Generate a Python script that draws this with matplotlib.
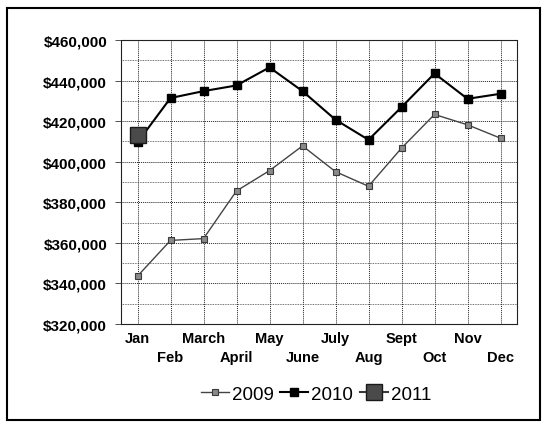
import matplotlib
matplotlib.use("Agg")
import matplotlib.pyplot as plt
from matplotlib.ticker import FuncFormatter, MultipleLocator
from matplotlib.patches import Rectangle

months = ["Jan", "Feb", "March", "April", "May", "June", "July", "Aug", "Sept", "Oct", "Nov", "Dec"]
sales_2009 = [343600, 361200, 362100, 385600, 395600, 407800, 395100, 387900, 406700, 423300, 418200, 411600]
sales_2010 = [409500, 431400, 434800, 437600, 446500, 434800, 420700, 410800, 426900, 443500, 431000, 433500]
sales_2011 = [413400]

plt.rcParams['font.family'] = ['Liberation Sans', 'DejaVu Sans']

fig = plt.figure(figsize=(5.46, 4.27), dpi=100)
ax = fig.add_axes([121/546, 1-325/427, (517-121)/546, (325-41)/427])

x = list(range(len(months)))
ax.plot(x, sales_2009, color='#444444', lw=1.0, marker='s', ms=4.2,
        mfc='#8a8a8a', mec='#3a3a3a', mew=0.8, label='2009', zorder=3)
ax.plot(x, sales_2010, color='black', lw=1.5, marker='s', ms=5.2,
        mfc='black', mec='black', label='2010', zorder=4)
ax.plot(x[:len(sales_2011)], sales_2011, color='#3a3a3a', lw=1.5, marker='s', ms=12,
        mfc='#4a4a4a', mec='#1a1a1a', mew=1.0, label='2011', zorder=5)

ax.set_xlim(-0.5, 11.5)
ax.set_ylim(320000, 460000)
ax.yaxis.set_major_locator(MultipleLocator(20000))
ax.yaxis.set_minor_locator(MultipleLocator(10000))
ax.yaxis.set_major_formatter(FuncFormatter(lambda v, p: f"${v:,.0f}"))
ax.set_xticks(x[0::2])
ax.set_xticklabels(months[0::2], fontsize=10.5, fontweight='bold')
ax.set_xticks(x[1::2], minor=True)
ax.set_xticklabels(months[1::2], minor=True, fontsize=10.5, fontweight='bold')
for lab in ax.get_yticklabels():
    lab.set_fontweight('bold')
    lab.set_fontsize(11)
ax.tick_params(axis='y', which='major', length=4, width=0.6, pad=6, color='#333333', direction='out')
ax.tick_params(axis='y', which='minor', length=0)
ax.tick_params(axis='x', which='major', length=0, pad=5)
ax.tick_params(axis='x', which='minor', length=0, pad=19)

ax.grid(True, which='major', axis='both', ls=(0, (1, 1)), color='#222222', lw=0.7)
ax.grid(True, which='minor', axis='x', ls=(0, (1, 1)), color='#222222', lw=0.7)
ax.grid(True, which='minor', axis='y', ls=(0, (1, 1)), color='#444444', lw=0.6)
for s in ax.spines.values():
    s.set_linestyle((0, (1, 1)))
    s.set_linewidth(0.8)
    s.set_color('#222222')

leg = fig.legend(loc='center', bbox_to_anchor=(316/546, 1-395/427), ncol=3, frameon=False,
                 fontsize=13.5, handlelength=1.5, handletextpad=0.15, columnspacing=0.35)

fig.add_artist(Rectangle((7/546, 1-421/427), (540-7)/546, (421-9)/427, transform=fig.transFigure,
                         fill=False, lw=1.5, ec='black'))

fig.savefig('out.png', dpi=100)
